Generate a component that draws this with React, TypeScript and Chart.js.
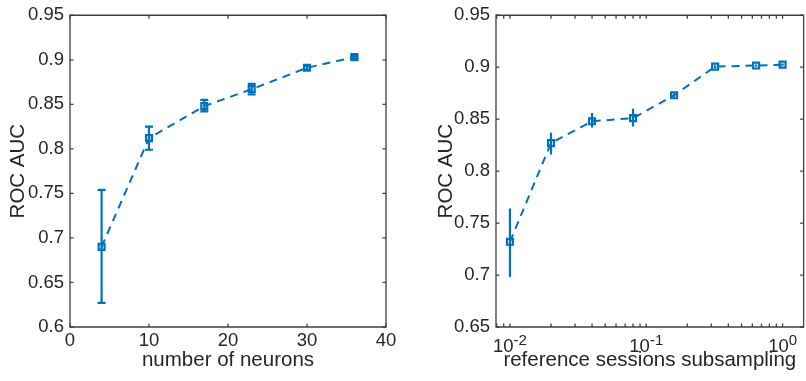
import React, { useEffect, useRef } from 'react';
import { Chart, registerables } from 'chart.js';

Chart.register(...registerables);

// ---------- data ----------
const neuronCounts = [4, 10, 17, 23, 30, 36];
const neuronAuc = [0.69, 0.812, 0.848, 0.867, 0.891, 0.903];
const neuronAucLow = [0.627, 0.799, 0.842, 0.861, 0.889, 0.901];
const neuronAucHigh = [0.754, 0.825, 0.855, 0.873, 0.893, 0.904];

const subsampleFractions = [0.01, 0.02, 0.04, 0.08, 0.16, 0.32, 0.64, 1];
const subsampleAuc = [0.732, 0.827, 0.848, 0.851, 0.873, 0.9006, 0.9016, 0.9025];
const subsampleAucLow = [0.698, 0.816, 0.842, 0.843, 0.871, 0.899, 0.9005, 0.9015];
const subsampleAucHigh = [0.764, 0.837, 0.856, 0.86, 0.875, 0.902, 0.9027, 0.9035];

const leftXTicks = [0, 10, 20, 30, 40];
const leftYTicks = [0.6, 0.65, 0.7, 0.75, 0.8, 0.85, 0.9, 0.95];
const rightXTicks = [0.01, 0.1, 1];
const rightXTickExponents = ['-2', '-1', '0'];
const rightXMinorTicks = [0.008, 0.009, 0.02, 0.03, 0.04, 0.05, 0.06, 0.07, 0.08, 0.09, 0.2, 0.3, 0.4, 0.5, 0.6, 0.7, 0.8, 0.9];
const rightYTicks = [0.65, 0.7, 0.75, 0.8, 0.85, 0.9, 0.95];

const leftXTitle = 'number of neurons';
const rightXTitle = 'reference sessions subsampling';
const yTitle = 'ROC AUC';

// ---------- styles ----------
const BLUE = '#0072BD';
const TEXT = '#262626';
const AXIS = '#404040';
const FAMILY = '"Liberation Sans", Arial, Helvetica, sans-serif';
const TICK_SIZE = 18.5;
const TITLE_SIZE = 20.5;

const framePlugin = {
  id: 'frame',
  afterDraw(chart: any, _args: any, opts: any) {
    const { ctx, chartArea: a, scales } = chart;
    const xs = scales.x;
    const ys = scales.y;
    const L = 3.5;
    ctx.save();
    ctx.strokeStyle = AXIS;
    ctx.lineWidth = 1.3;
    ctx.beginPath();
    ctx.rect(a.left, a.top, a.right - a.left, a.bottom - a.top);
    ctx.stroke();
    ctx.beginPath();
    const xv = [...xs.ticks.map((t: any) => t.value), ...((opts && opts.minor) || [])];
    xv.forEach((v: number) => {
      const x = xs.getPixelForValue(v);
      if (x < a.left - 0.5 || x > a.right + 0.5) return;
      ctx.moveTo(x, a.bottom);
      ctx.lineTo(x, a.bottom - L);
      ctx.moveTo(x, a.top);
      ctx.lineTo(x, a.top + L);
    });
    ys.ticks.forEach((t: any) => {
      const y = ys.getPixelForValue(t.value);
      ctx.moveTo(a.left, y);
      ctx.lineTo(a.left + L, y);
      ctx.moveTo(a.right, y);
      ctx.lineTo(a.right - L, y);
    });
    ctx.stroke();
    ctx.restore();
  },
};

const errorBarPlugin = {
  id: 'errbars',
  afterDatasetsDraw(chart: any, _args: any, opts: any) {
    if (!opts || !opts.low) return;
    const { ctx, scales } = chart;
    const ys = scales.y;
    const meta = chart.getDatasetMeta(0);
    ctx.save();
    ctx.strokeStyle = BLUE;
    ctx.lineWidth = 2.2;
    ctx.beginPath();
    meta.data.forEach((pt: any, i: number) => {
      const x = pt.x;
      const yl = ys.getPixelForValue(opts.low[i]);
      const yh = ys.getPixelForValue(opts.high[i]);
      ctx.moveTo(x, yl);
      ctx.lineTo(x, yh);
      if (opts.cap) {
        ctx.moveTo(x - opts.cap, yl);
        ctx.lineTo(x + opts.cap, yl);
        ctx.moveTo(x - opts.cap, yh);
        ctx.lineTo(x + opts.cap, yh);
      }
    });
    ctx.stroke();
    ctx.restore();
  },
};

const powerLabelPlugin = {
  id: 'powerLabels',
  afterDraw(chart: any, _args: any, opts: any) {
    if (!opts || !opts.values) return;
    const { ctx, scales } = chart;
    const xs = scales.x;
    ctx.save();
    ctx.fillStyle = TEXT;
    ctx.textBaseline = 'alphabetic';
    ctx.textAlign = 'left';
    opts.values.forEach((v: number, i: number) => {
      const x = xs.getPixelForValue(v);
      const base = '10';
      const exp = opts.exponents[i];
      ctx.font = `${TICK_SIZE}px ${FAMILY}`;
      const wb = ctx.measureText(base).width;
      ctx.font = `15px ${FAMILY}`;
      const we = ctx.measureText(exp).width;
      const x0 = x - (wb + we) / 2;
      ctx.font = `${TICK_SIZE}px ${FAMILY}`;
      ctx.fillText(base, x0, opts.baseline);
      ctx.font = `15px ${FAMILY}`;
      ctx.fillText(exp, x0 + wb, opts.baseline - 7.5);
    });
    ctx.restore();
  },
};

const fmt = (v: any) => String(Number(Number(v).toFixed(3)));

const seriesStyle = {
  borderColor: BLUE,
  borderWidth: 2,
  borderDash: [8, 6],
  pointStyle: 'rect',
  pointRadius: 4.2,
  pointBorderWidth: 2.2,
  pointBorderColor: BLUE,
  pointBackgroundColor: 'rgba(255,255,255,0)',
  tension: 0,
  fill: false,
};

function makeLeft(canvas: HTMLCanvasElement) {
  return new Chart(canvas, {
    type: 'line',
    data: {
      datasets: [
        {
          data: neuronCounts.map((x, i) => ({ x, y: neuronAuc[i] })),
          ...seriesStyle,
        },
      ],
    },
    options: {
      responsive: false,
      animation: false,
      devicePixelRatio: 1,
      layout: { padding: { left: 0, top: 13, right: 24, bottom: 0 } },
      plugins: {
        legend: { display: false },
        tooltip: { enabled: false },
        errbars: { low: neuronAucLow, high: neuronAucHigh, cap: 4 },
      } as any,
      scales: {
        x: {
          type: 'linear',
          min: 0,
          max: 40,
          grid: { display: false, drawTicks: false },
          border: { display: false },
          afterBuildTicks: (s: any) => {
            s.ticks = leftXTicks.map((v) => ({ value: v }));
          },
          afterFit: (s: any) => {
            s.height = 54;
          },
          ticks: {
            color: TEXT,
            font: { family: FAMILY, size: TICK_SIZE, lineHeight: 1 },
            padding: 4.25,
            maxRotation: 0,
            autoSkip: false,
            callback: fmt,
          },
          title: {
            display: true,
            text: leftXTitle,
            color: TEXT,
            font: { family: FAMILY, size: TITLE_SIZE, lineHeight: 1 },
            padding: { top: 0, bottom: 10.5 },
          },
        },
        y: {
          type: 'linear',
          min: 0.6,
          max: 0.95,
          grid: { display: false, drawTicks: false },
          border: { display: false },
          afterBuildTicks: (s: any) => {
            s.ticks = leftYTicks.map((v) => ({ value: v }));
          },
          afterFit: (s: any) => {
            s.width = 70;
          },
          ticks: {
            color: TEXT,
            font: { family: FAMILY, size: TICK_SIZE, lineHeight: 1 },
            padding: 6,
            autoSkip: false,
            callback: fmt,
          },
          title: {
            display: true,
            text: yTitle,
            color: TEXT,
            font: { family: FAMILY, size: TITLE_SIZE, lineHeight: 1 },
            padding: { top: 7.75, bottom: 0 },
          },
        },
      },
    },
    plugins: [errorBarPlugin, framePlugin],
  } as any);
}

function makeRight(canvas: HTMLCanvasElement) {
  return new Chart(canvas, {
    type: 'line',
    data: {
      datasets: [
        {
          data: subsampleFractions.map((x, i) => ({ x, y: subsampleAuc[i] })),
          ...seriesStyle,
        },
      ],
    },
    options: {
      responsive: false,
      animation: false,
      devicePixelRatio: 1,
      layout: { padding: { left: 0, top: 13, right: 2, bottom: 0 } },
      plugins: {
        legend: { display: false },
        tooltip: { enabled: false },
        errbars: { low: subsampleAucLow, high: subsampleAucHigh, cap: 0 },
        frame: { minor: rightXMinorTicks },
        powerLabels: { values: rightXTicks, exponents: rightXTickExponents, baseline: 352 },
      } as any,
      scales: {
        x: {
          type: 'logarithmic',
          min: 0.0079,
          max: 1.426,
          grid: { display: false, drawTicks: false },
          border: { display: false },
          afterBuildTicks: (s: any) => {
            s.ticks = rightXTicks.map((v) => ({ value: v }));
          },
          afterFit: (s: any) => {
            s.height = 54;
          },
          ticks: { display: false },
          title: {
            display: true,
            text: rightXTitle,
            color: TEXT,
            font: { family: FAMILY, size: TITLE_SIZE, lineHeight: 1 },
            padding: { top: 0, bottom: 10.5 },
          },
        },
        y: {
          type: 'linear',
          min: 0.65,
          max: 0.95,
          grid: { display: false, drawTicks: false },
          border: { display: false },
          afterBuildTicks: (s: any) => {
            s.ticks = rightYTicks.map((v) => ({ value: v }));
          },
          afterFit: (s: any) => {
            s.width = 86;
          },
          ticks: {
            color: TEXT,
            font: { family: FAMILY, size: TICK_SIZE, lineHeight: 1 },
            padding: 6,
            autoSkip: false,
            callback: fmt,
          },
          title: {
            display: true,
            text: yTitle,
            color: TEXT,
            font: { family: FAMILY, size: TITLE_SIZE, lineHeight: 1 },
            padding: { top: 25.75, bottom: 0 },
          },
        },
      },
    },
    plugins: [errorBarPlugin, framePlugin, powerLabelPlugin],
  } as any);
}

export default function App() {
  const leftRef = useRef<HTMLCanvasElement | null>(null);
  const rightRef = useRef<HTMLCanvasElement | null>(null);

  useEffect(() => {
    const c1 = makeLeft(leftRef.current as HTMLCanvasElement);
    const c2 = makeRight(rightRef.current as HTMLCanvasElement);
    return () => {
      c1.destroy();
      c2.destroy();
    };
  }, []);

  return (
    <div
      style={{
        position: 'absolute',
        left: 0,
        top: 0,
        width: 806,
        height: 381,
        overflow: 'hidden',
        background: '#ffffff',
      }}
    >
      <canvas
        ref={leftRef}
        width={410}
        height={381}
        style={{ position: 'absolute', left: 0, top: 0, width: 410, height: 381 }}
      />
      <canvas
        ref={rightRef}
        width={400}
        height={381}
        style={{ position: 'absolute', left: 410, top: 0, width: 400, height: 381 }}
      />
    </div>
  );
}
